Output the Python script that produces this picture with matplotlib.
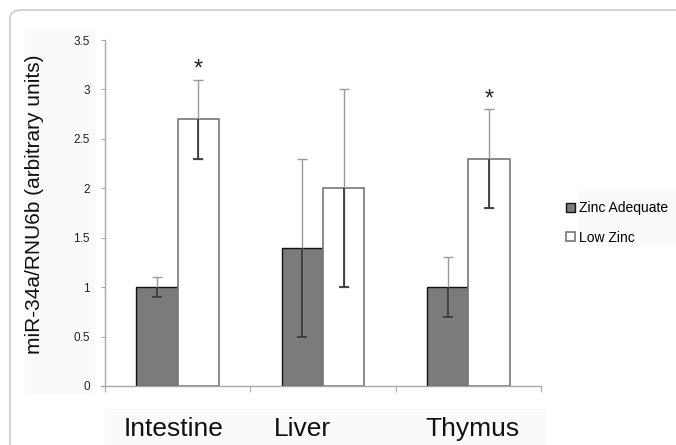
import numpy as np
import matplotlib.pyplot as plt
from matplotlib.patches import FancyBboxPatch, Rectangle

plt.rcParams['font.family'] = ['Liberation Sans', 'DejaVu Sans']

tissues = ['Intestine', 'Liver', 'Thymus']
adequate = [1.0, 1.4, 1.0]
adequate_err = [0.1, 0.9, 0.3]
low_zinc = [2.7, 2.0, 2.3]
low_zinc_err = [0.4, 1.0, 0.5]
significant = [True, False, True]
label_shift = [-0.03, -0.14, 0.03]

W, H = 676, 445
fig = plt.figure(figsize=(W / 100, H / 100), dpi=100)

# rounded panel border and faint pasted-image backgrounds
fig.patches.append(FancyBboxPatch((10 / W, -0.1), 1.2, 1.1 - 10 / H,
                                  boxstyle='round,pad=0,rounding_size=0.018',
                                  transform=fig.transFigure, fc='white',
                                  ec='#c4c4c4', lw=1.0, zorder=-2))
for (x0, y0, x1, y1) in [(25, 30, 95, 395), (105, 409, 546, 445), (578, 190, 676, 246)]:
    fig.patches.append(Rectangle((x0 / W, 1 - y1 / H), (x1 - x0) / W, (y1 - y0) / H,
                                 transform=fig.transFigure, fc='#fafafa', ec='none', zorder=-1))

ax = fig.add_axes([105 / W, 59 / H, 436 / W, 346 / H])
ax.set_zorder(1)
ax.patch.set_alpha(0)

x = np.arange(len(tissues))
w = 0.284
ax.bar(x - w / 2, adequate, w, color='#7b7b7b', edgecolor='#111111', lw=1.0,
       label='Zinc Adequate', zorder=2)
ax.bar(x + w / 2, low_zinc, w, color='white', edgecolor='#777777', lw=1.2,
       label='Low Zinc', zorder=2)

# error bars: light grey above the bar top, darker inside the bar
for xs, vals, errs in [(x - w / 2, adequate, adequate_err), (x + w / 2, low_zinc, low_zinc_err)]:
    vals = np.array(vals)
    errs = np.array(errs)
    ax.errorbar(xs, vals, yerr=errs, fmt='none', ecolor='#9a9a9a',
                elinewidth=1.0, capsize=3.5, capthick=1.0, zorder=3)
    ax.vlines(xs, vals - errs, vals, color='#3a3a3a', lw=1.3, zorder=4)
    ax.plot(xs, vals - errs, ls='none', marker='_', ms=7, mew=1.3, color='#3a3a3a', zorder=4)

for i, sig in enumerate(significant):
    if sig:
        ax.text(x[i] + w / 2, low_zinc[i] + low_zinc_err[i] + 0.1, '*',
                ha='center', va='center', fontsize=17, color='#222222')

ax.set_xlim(-0.5, 2.5)
ax.set_ylim(0, 3.5)
ax.set_yticks(np.arange(0, 3.51, 0.5))
ax.set_yticklabels(['0', '0.5', '1', '1.5', '2', '2.5', '3', '3.5'])
ax.set_xticks([-0.5, 0.5, 1.5, 2.5])
ax.set_xticklabels([])
for s in ['top', 'right']:
    ax.spines[s].set_visible(False)
for s in ['left', 'bottom']:
    ax.spines[s].set_color('#a8a8a8')
    ax.spines[s].set_linewidth(1.0)
ax.spines['bottom'].set_bounds(-0.53, 2.5)
ax.tick_params(axis='y', direction='out', length=3, color='#a8a8a8',
               labelsize=8.5, labelcolor='#222222', pad=8)
ax.tick_params(axis='x', direction='out', length=4, color='#a8a8a8')

for i, name in enumerate(tissues):
    ax.text(x[i] + label_shift[i], -0.125, name, transform=ax.get_xaxis_transform(),
            ha='center', va='center', fontsize=19, color='#111111')

ax.set_ylabel('miR-34a/RNU6b (arbitrary units)', fontsize=15, color='#111111')
ax.yaxis.set_label_coords(-0.14, 0.526)

fig.legend(loc='center left', bbox_to_anchor=(566 / W, 1 - 223 / H), frameon=False,
           fontsize=10, handlelength=0.65, handleheight=0.65, handletextpad=0.3,
           labelspacing=1.1, borderpad=0, borderaxespad=0)

fig.savefig('out.png', dpi=100)
